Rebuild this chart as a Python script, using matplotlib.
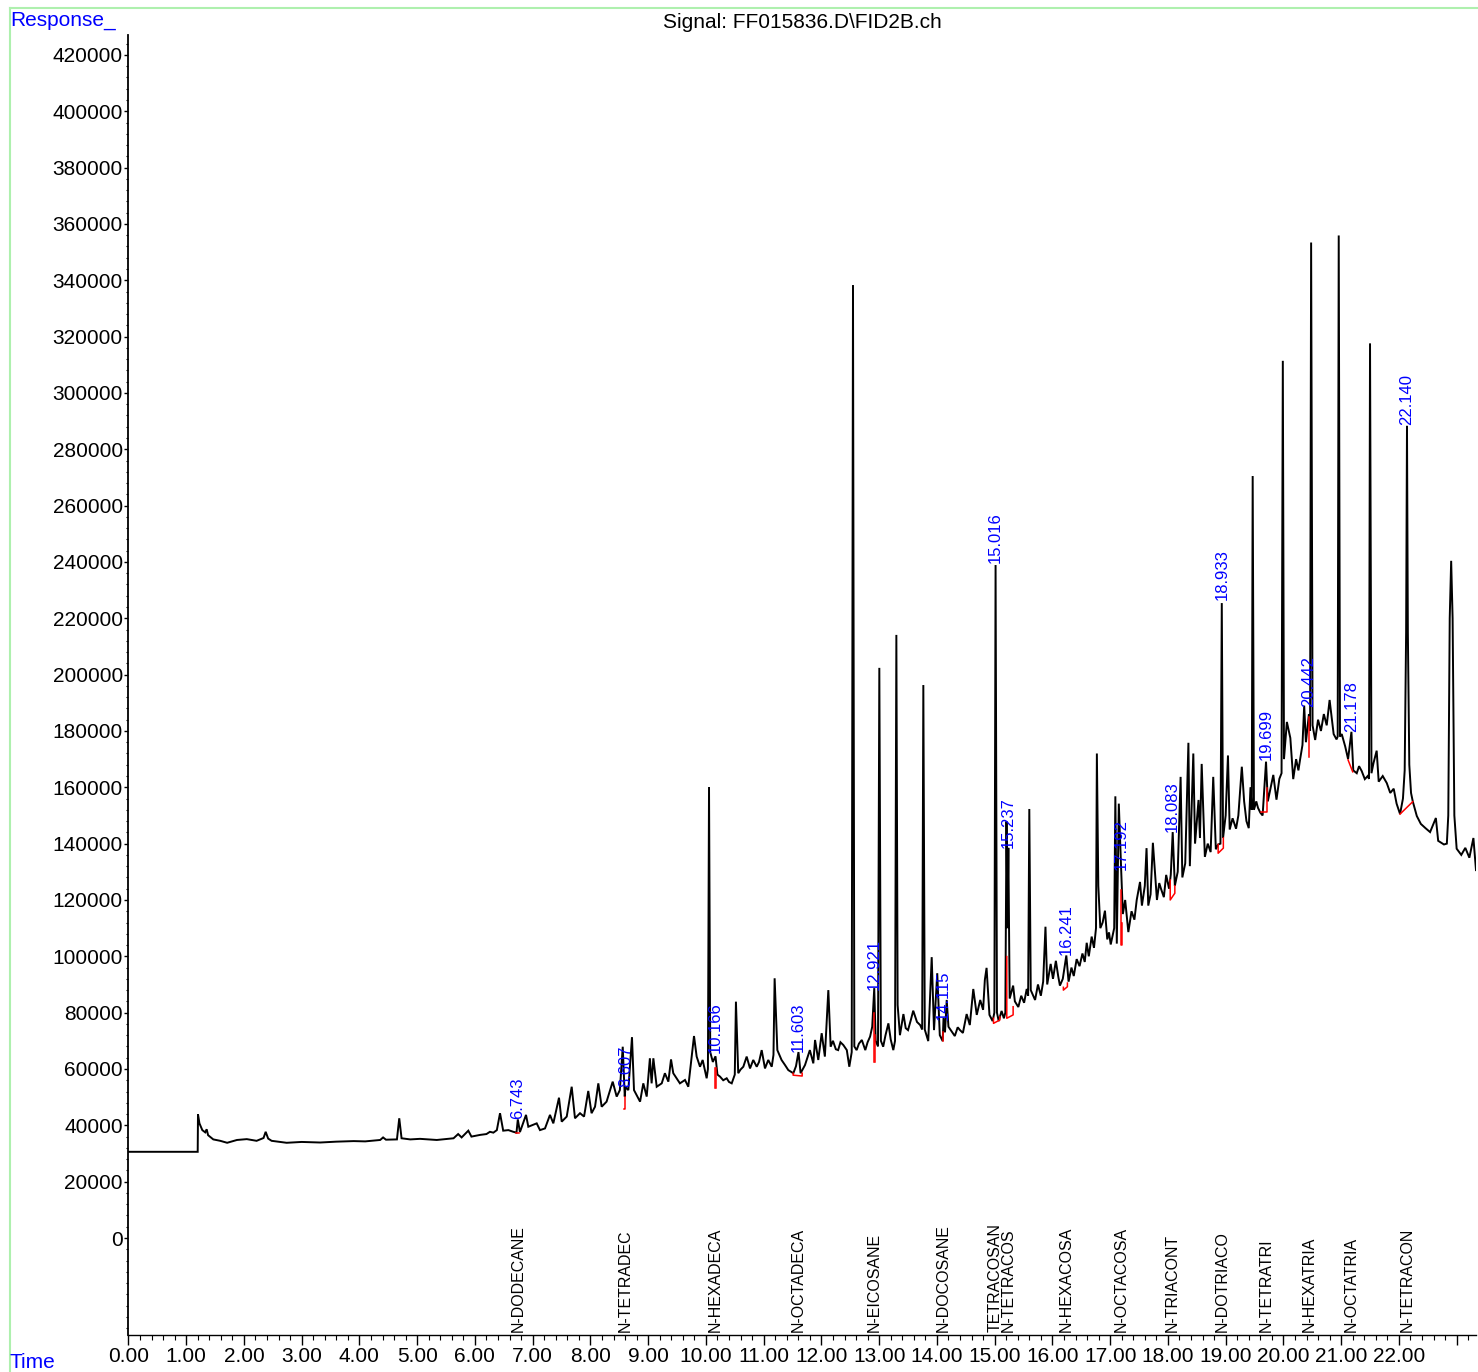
import matplotlib
matplotlib.use("Agg")
import matplotlib.pyplot as plt
from matplotlib.lines import Line2D
from matplotlib.ticker import MultipleLocator
import numpy as np

plt.rcParams['font.family'] = ['Liberation Sans', 'DejaVu Sans']

# chromatogram trace: (time min, response)
trace_points = [
    (0.00, 30600), (1.200, 30600), (1.205, 43900), (1.23, 40700), (1.28, 38300),
    (1.33, 37500), (1.355, 38600), (1.38, 36500), (1.47, 35000), (1.59, 34500),
    (1.71, 33800), (1.88, 34800), (2.05, 35100), (2.22, 34500), (2.34, 35500),
    (2.377, 37700), (2.42, 35300), (2.48, 34500), (2.74, 33800), (3.0, 34100),
    (3.32, 33900), (3.6, 34200), (3.9, 34400), (4.1, 34300), (4.36, 34800),
    (4.41, 35700), (4.46, 34900), (4.65, 35000), (4.69, 42500), (4.73, 35400),
    (4.88, 35000), (5.05, 35200), (5.34, 34800), (5.63, 35400), (5.71, 36900),
    (5.77, 35700), (5.886, 38100), (5.94, 36000), (6.09, 36600), (6.20, 36900),
    (6.26, 37700), (6.32, 37400), (6.38, 38300), (6.435, 44300), (6.49, 38100),
    (6.58, 38300), (6.665, 37700), (6.72, 37400), (6.743, 42100), (6.78, 37600),
    (6.885, 43700), (6.925, 39500), (7.07, 40700), (7.127, 38300), (7.214, 38900),
    (7.30, 43700), (7.358, 40700), (7.456, 49800), (7.503, 41300), (7.59, 43100),
    (7.676, 53700), (7.733, 42500), (7.82, 44300), (7.89, 43100), (7.963, 52200),
    (8.02, 44300), (8.08, 46600), (8.137, 54900), (8.195, 46600), (8.28, 48400),
    (8.386, 55500), (8.455, 50200), (8.51, 52500), (8.56, 67900), (8.587, 54900),
    (8.595, 50200), (8.607, 53600), (8.657, 52500), (8.72, 71300), (8.755, 52500),
    (8.86, 48400), (8.916, 54900), (8.975, 50200), (9.03, 63800), (9.06, 54900),
    (9.09, 63800), (9.148, 53700), (9.235, 54900), (9.29, 58500), (9.35, 55500),
    (9.396, 63400), (9.435, 58500), (9.55, 54900), (9.638, 56100), (9.695, 53700),
    (9.794, 71700), (9.84, 64400), (9.898, 60800), (9.944, 63200), (10.013, 56700),
    (10.035, 60000), (10.054, 160100), (10.075, 66000), (10.12, 62500), (10.166, 64500),
    (10.20, 58000), (10.244, 57300), (10.30, 56000), (10.36, 56700), (10.40, 55400),
    (10.447, 54900), (10.50, 58000), (10.52, 83900), (10.56, 58500), (10.60, 59800),
    (10.648, 60800), (10.706, 64400), (10.764, 60200), (10.82, 63200), (10.88, 60800),
    (10.92, 62500), (10.966, 66700), (11.023, 60200), (11.08, 63200), (11.14, 60800),
    (11.17, 65000), (11.19, 92200), (11.237, 66700), (11.31, 63200), (11.37, 61400),
    (11.427, 59600), (11.514, 58500), (11.56, 61000), (11.603, 66000), (11.64, 58500),
    (11.716, 61400), (11.80, 66700), (11.86, 62000), (11.89, 70300), (11.946, 63200),
    (12.005, 72700), (12.06, 64400), (12.12, 88000), (12.16, 67900), (12.20, 70000),
    (12.25, 67000), (12.29, 66700), (12.33, 69500), (12.38, 68500), (12.44, 66700),
    (12.483, 60800), (12.525, 66000), (12.547, 338300), (12.57, 68000), (12.61, 66700),
    (12.65, 69000), (12.70, 70300), (12.76, 66700), (12.80, 69500), (12.843, 71500),
    (12.88, 75000), (12.915, 88700), (12.94, 70000), (12.98, 68000), (13.003, 202400),
    (13.03, 70000), (13.07, 67900), (13.11, 72000), (13.16, 76200), (13.2, 70500),
    (13.245, 66700), (13.275, 70000), (13.298, 214100), (13.32, 82700), (13.36, 72000),
    (13.42, 79500), (13.46, 74500), (13.50, 73800), (13.55, 77500), (13.59, 80700),
    (13.655, 76700), (13.71, 75600), (13.745, 74000), (13.765, 196300), (13.79, 74000),
    (13.85, 69900), (13.91, 99700), (13.95, 73800), (14.006, 94000), (14.05, 72000),
    (14.10, 69900), (14.115, 78100), (14.14, 73000), (14.17, 84500), (14.20, 75000),
    (14.25, 73500), (14.31, 71700), (14.36, 74800), (14.40, 73800), (14.45, 72800),
    (14.515, 79500), (14.57, 75600), (14.63, 88400), (14.69, 79200), (14.75, 84500),
    (14.80, 81000), (14.83, 91600), (14.86, 95900), (14.91, 79200), (14.965, 77000),
    (14.995, 80000), (15.016, 238900), (15.04, 80000), (15.07, 77000), (15.12, 80600),
    (15.16, 78000), (15.185, 80000), (15.205, 147900), (15.222, 110000), (15.237, 138500),
    (15.26, 85000), (15.32, 89600), (15.35, 84000), (15.41, 82000), (15.46, 86000),
    (15.51, 83500), (15.555, 88400), (15.58, 86000), (15.60, 152300), (15.625, 88000),
    (15.70, 84500), (15.75, 90000), (15.80, 86000), (15.84, 91000), (15.88, 110500),
    (15.91, 90000), (15.97, 97300), (16.01, 92000), (16.06, 98400), (16.10, 93000),
    (16.13, 89600), (16.18, 92000), (16.241, 100300), (16.28, 91000), (16.33, 96000),
    (16.37, 93000), (16.42, 99000), (16.47, 96500), (16.52, 101000), (16.56, 98000),
    (16.594, 104800), (16.63, 100000), (16.68, 107000), (16.72, 103000), (16.755, 110000),
    (16.77, 172000), (16.795, 125000), (16.83, 110000), (16.87, 112000), (16.91, 116200),
    (16.95, 106000), (16.98, 108500), (17.01, 104200), (17.07, 110000), (17.09, 156800),
    (17.115, 104500), (17.15, 154200), (17.192, 130000), (17.22, 115000), (17.26, 120000),
    (17.315, 108600), (17.37, 116000), (17.42, 113000), (17.46, 120000), (17.517, 126400),
    (17.55, 118000), (17.60, 125000), (17.63, 138400), (17.66, 118000), (17.70, 122000),
    (17.74, 140300), (17.81, 120000), (17.85, 126000), (17.88, 124000), (17.93, 121000),
    (17.97, 128900), (18.02, 124000), (18.05, 129000), (18.083, 144100), (18.12, 125000),
    (18.17, 130000), (18.22, 163700), (18.25, 128000), (18.30, 133000), (18.355, 175800),
    (18.38, 132000), (18.44, 172000), (18.47, 140000), (18.53, 155500), (18.555, 142000),
    (18.585, 168300), (18.64, 135300), (18.69, 140000), (18.74, 137000), (18.785, 163700),
    (18.83, 138000), (18.87, 139700), (18.91, 140000), (18.933, 225400), (18.955, 142000),
    (19.00, 150000), (19.04, 171300), (19.07, 145000), (19.12, 149000), (19.18, 145300),
    (19.22, 150000), (19.28, 167300), (19.32, 155000), (19.36, 148000), (19.40, 145500),
    (19.43, 160000), (19.452, 152000), (19.468, 270500), (19.49, 152000), (19.53, 155000),
    (19.56, 152700), (19.60, 151000), (19.64, 150000), (19.699, 169100), (19.73, 155000),
    (19.78, 160000), (19.825, 164400), (19.88, 155600), (19.93, 163000), (19.968, 165000),
    (19.99, 311400), (20.01, 170000), (20.06, 183200), (20.12, 177500), (20.17, 162900),
    (20.22, 170000), (20.26, 166000), (20.29, 170000), (20.33, 175000), (20.36, 189000),
    (20.39, 176000), (20.442, 186000), (20.462, 180000), (20.48, 353400), (20.505, 182000),
    (20.55, 176800), (20.60, 184000), (20.65, 180000), (20.70, 186000), (20.75, 182000),
    (20.80, 191000), (20.87, 178900), (20.92, 177000), (20.94, 178000), (20.958, 355900),
    (20.98, 178000), (21.01, 178900), (21.07, 174500), (21.12, 170000), (21.178, 179700),
    (21.21, 166000), (21.27, 165000), (21.31, 167500), (21.355, 165800), (21.41, 162900),
    (21.46, 164000), (21.482, 163000), (21.50, 317600), (21.525, 165000), (21.56, 168600),
    (21.615, 173000), (21.65, 162000), (21.72, 164000), (21.79, 161500), (21.85, 158000),
    (21.91, 159500), (21.96, 154200), (22.02, 150500), (22.07, 156000), (22.10, 166000),
    (22.125, 215000), (22.14, 288300), (22.155, 215000), (22.18, 168000), (22.21, 158000),
    (22.24, 155000), (22.31, 149800), (22.38, 147000), (22.46, 145500), (22.54, 144100),
    (22.64, 149100), (22.68, 141000), (22.78, 139700), (22.83, 140000), (22.855, 150000),
    (22.88, 220000), (22.905, 240400), (22.93, 220000), (22.96, 150000), (23.00, 138200),
    (23.08, 136000), (23.15, 138500), (23.22, 135000), (23.29, 142000), (23.335, 130600),
]

# integrated peaks: retention time, apex height, compound name
peak_rt = ['6.743', '8.607', '10.166', '11.603', '12.921', '14.115', '15.016', '15.237',
           '16.241', '17.192', '18.083', '18.933', '19.699', '20.442', '21.178', '22.140']
peak_top = [42100, 53600, 65700, 66000, 88000, 77400, 239600, 138500,
            100500, 130600, 144100, 226500, 169700, 188500, 179600, 288600]
compounds = ['N-DODECANE', 'N-TETRADEC', 'N-HEXADECA', 'N-OCTADECA', 'N-EICOSANE',
             'N-DOCOSANE', 'TETRACOSAN', 'N-TETRACOS', 'N-HEXACOSA', 'N-OCTACOSA',
             'N-TRIACONT', 'N-DOTRIACO', 'N-TETRATRI', 'N-HEXATRIA', 'N-OCTATRIA',
             'N-TETRACON']

# red integration baselines / drop lines
red_segments = [
    [(6.72, 37300), (6.77, 37300)],
    [(8.59, 45700), (8.607, 45700), (8.607, 50200)],
    [(10.16, 53300), (10.16, 60400)],
    [(10.172, 53300), (10.172, 60400)],
    [(11.51, 58500), (11.51, 57800), (11.667, 57500), (11.667, 58500)],
    [(12.905, 62500), (12.905, 79900)],
    [(12.925, 62500), (12.925, 72000)],
    [(14.10, 69900), (14.10, 73100)],
    [(14.98, 78000), (14.98, 76200), (15.09, 77400), (15.09, 78500)],
    [(15.21, 99900), (15.21, 78000), (15.32, 79200), (15.32, 82100)],
    [(16.19, 89000), (16.19, 88000), (16.26, 89200), (16.26, 90500)],
    [(17.19, 123500), (17.19, 104000), (17.21, 104000), (17.21, 112000)],
    [(18.04, 127100), (18.04, 120000), (18.12, 122400), (18.12, 125000)],
    [(18.87, 139700), (18.87, 136600), (18.96, 138400), (18.96, 142000)],
    [(19.62, 151300), (19.71, 151300), (19.71, 159700)],
    [(20.44, 185100), (20.44, 170900), (20.435, 170900)],
    [(21.12, 169700), (21.20, 165500)],
    [(22.02, 150500), (22.24, 154900)],
]

fig = plt.figure(figsize=(14.78, 13.72), dpi=100)
ax = fig.add_axes([128.4 / 1478, 1 - 1335 / 1372, (1476 - 128.4) / 1478, 1300 / 1372])

t, r = zip(*trace_points)
ax.plot(t, r, color='black', lw=1.4, solid_joinstyle='miter')

for seg in red_segments:
    sx, sy = zip(*seg)
    ax.plot(sx, sy, color='red', lw=1.1)

ymin, ymax = -34435, 427065
ax.set_xlim(0, 23.335)
ax.set_ylim(ymin, ymax)

for rt, top in zip(peak_rt, peak_top):
    ax.text(float(rt), top, rt, rotation=90, ha='center', va='bottom',
            color='blue', fontsize=12)

for rt, name in zip(peak_rt, compounds):
    ax.text(float(rt), ymin + 1200, name, rotation=90, ha='center', va='bottom',
            color='black', fontsize=11.5)

for s in ['top', 'right']:
    ax.spines[s].set_visible(False)
ax.spines['left'].set_linewidth(1.3)
ax.spines['bottom'].set_linewidth(1.0)

ax.set_yticks(np.arange(0, 420001, 20000))
ax.set_yticklabels(['%d' % v for v in range(0, 420001, 20000)])
ax.yaxis.set_minor_locator(MultipleLocator(4000))
xt = np.arange(0, 24, 1)
ax.set_xticks(xt)
ax.set_xticklabels(['%.2f' % v if v <= 22 else '' for v in xt])
ax.xaxis.set_minor_locator(MultipleLocator(0.2))
ax.tick_params(axis='y', which='major', length=3, width=1, labelsize=15, pad=1)
ax.tick_params(axis='y', which='minor', length=1.5, width=0.8)
ax.tick_params(axis='x', which='major', length=7, width=1, labelsize=15, pad=2)
ax.tick_params(axis='x', which='minor', length=3.5, width=0.8)

fig.text(10 / 1478, 1 - 20 / 1372, 'Response_', color='blue', fontsize=15,
         ha='left', va='center')
fig.text(10 / 1478, 1 - 1362 / 1372, 'Time', color='blue', fontsize=15,
         ha='left', va='center')
fig.text(802 / 1478, 1 - 22 / 1372, 'Signal: FF015836.D\\FID2B.ch', color='black',
         fontsize=15, ha='center', va='center')

green = '#aef0ae'
fig.add_artist(Line2D([10 / 1478, 1], [1 - 8 / 1372, 1 - 8 / 1372], color=green, lw=1.5))
fig.add_artist(Line2D([10 / 1478, 10 / 1478], [0, 1 - 8 / 1372], color=green, lw=1.5))

fig.savefig('out.png', dpi=100)
